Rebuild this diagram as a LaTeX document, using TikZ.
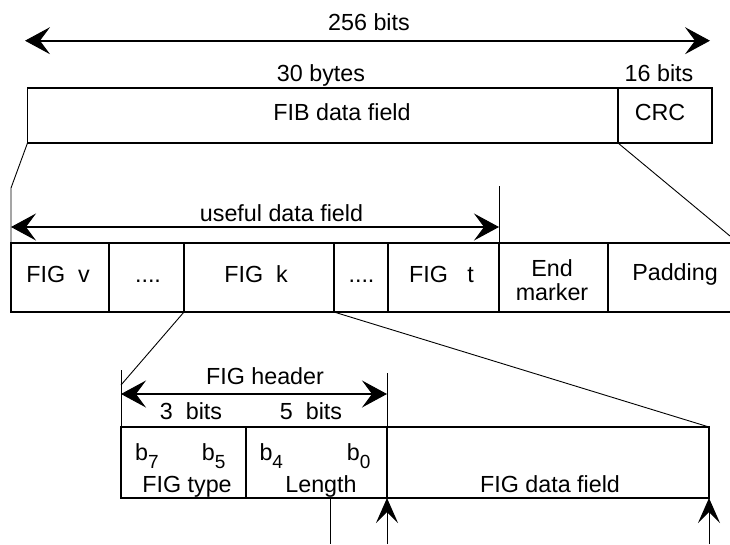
\documentclass[tikz,border=0pt]{standalone}
\usepackage{fontspec}
\setmainfont{Liberation Sans}
\usetikzlibrary{arrows.meta}
\newcommand\bitsub[2]{#1\raisebox{-8pt}{\fontsize{19}{19}\selectfont #2}}
\tikzset{
  lbl/.style={font=\fontsize{23.3}{25}\selectfont, inner sep=0pt, anchor=base},
  cell/.style={draw, line width=1.8pt, inner sep=0pt, outer sep=0pt, rectangle},
  ghost/.style={inner sep=0pt, outer sep=0pt, rectangle},
  thin/.style={line width=0.9pt},
  dimarrow/.style={line width=2pt,
    arrows={Stealth[length=25pt,width=27pt,inset=10pt,line width=1pt]-Stealth[length=25pt,width=27pt,inset=10pt,line width=1pt]}},
  uparrow/.style={line width=0.9pt,
    arrows={-Stealth[length=25pt,width=22pt,inset=11pt,line width=1pt]}}
}
\begin{document}
\begin{tikzpicture}[x=1pt,y=-1pt]
\useasboundingbox (0,0) rectangle (730,544);

% ---------- top row ----------
\coordinate (t1) at (25,40.7);
\coordinate (t2) at (710,40.7);
\draw[dimarrow] (t1) -- (t2);
\node[lbl] (l256) at (369,30.7) {256 bits};
\node[lbl] (l30) at (321,81.7) {30 bytes};
\node[lbl] (l16) at (659,81.7) {16 bits};
\node[cell, minimum width=590.5pt, minimum height=55pt] (fib) at (322.75,115.5) {};
\node[cell, minimum width=94pt, minimum height=55pt] (crc) at (665,115.5) {};
\node[lbl] (lfib) at (342,120.7) {FIB data field};
\node[lbl] (lcrc) at (660,120.7) {CRC};

% ---------- middle row ----------
\node[cell, minimum width=98pt, minimum height=69pt] (v) at (60,277.5) {};
\node[cell, minimum width=75pt, minimum height=69pt] (d1) at (146.5,277.5) {};
\node[cell, minimum width=150pt, minimum height=69pt] (k) at (259,277.5) {};
\node[cell, minimum width=54pt, minimum height=69pt] (d2) at (361,277.5) {};
\node[cell, minimum width=111pt, minimum height=69pt] (t) at (443.5,277.5) {};
\node[cell, minimum width=109pt, minimum height=69pt] (em) at (553.5,277.5) {};
\node[ghost, minimum width=122pt, minimum height=69pt] (pad) at (669,277.5) {};
\draw[line width=1.8pt] (pad.north west) -- (pad.north east);
\draw[line width=1.8pt] (pad.south west) -- (pad.south east);

\node[lbl] at (58,282.7) {FIG\ \ v};
\node[lbl] at (148,282) {....};
\node[lbl] at (256,282.7) {FIG\ \ k};
\node[lbl] at (361.5,282) {....};
\node[lbl] at (441.5,282.7) {FIG\ \ \ t};
\node[lbl] at (552,276) {End};
\node[lbl] at (552,300) {marker};
\node[lbl] at (675,280) {Padding};

\coordinate (u1) at (11,227);
\coordinate (u2) at (499,227);
\draw[dimarrow] (u1) -- (u2);
\node[lbl] at (281.5,221.7) {useful data field};
\coordinate (ltick) at (11,188);
\coordinate (rtick) at (499,186);
\draw[thin] (fib.south west) -- (ltick) -- (v.north west);
\draw[thin] (rtick) -- (t.north east);
\coordinate (crcend) at (730,236);
\draw[thin] (crc.south west) -- (crcend);

% ---------- bottom row ----------
\node[cell, minimum width=125pt, minimum height=71pt] (ty) at (183.5,462.5) {};
\node[cell, minimum width=141pt, minimum height=71pt] (len) at (316.5,462.5) {};
\node[cell, minimum width=322pt, minimum height=71pt] (data) at (548,462.5) {};

\coordinate (h1) at (121,394);
\coordinate (h2) at (387,394);
\draw[dimarrow, line width=1.8pt] (h1) -- (h2);
\node[lbl] at (265,384) {FIG header};
\node[lbl] at (191,419.3) {3\ \ bits};
\node[lbl] at (311,419.3) {5\ \ bits};

\coordinate (hl) at (121,370);
\coordinate (hr) at (387,373);
\coordinate (kend) at (121,385);
\draw[thin] (hl) -- (ty.north west);
\draw[thin] (hr) -- (len.north east);
\draw[thin] (k.south west) -- (kend);
\draw[thin] (k.south east) -- (data.north east);

\node[lbl, anchor=base west] at (135,460) {\bitsub{b}{7}};
\node[lbl, anchor=base west] at (201.7,460) {\bitsub{b}{5}};
\node[lbl, anchor=base west] at (259.3,460) {\bitsub{b}{4}};
\node[lbl, anchor=base west] at (346.7,460) {\bitsub{b}{0}};
\node[lbl] at (187,492) {FIG type};
\node[lbl] at (321,492) {Length};
\node[lbl] at (550,492) {FIG data field};

\coordinate (lenb) at (330,498);
\coordinate (lene) at (330,544);
\draw[thin] (lenb) -- (lene);
\coordinate (ua) at (387,544);
\coordinate (ub) at (709,544);
\draw[uparrow] (ua) -- (len.south east);
\draw[uparrow] (ub) -- (data.south east);
\end{tikzpicture}
\end{document}
